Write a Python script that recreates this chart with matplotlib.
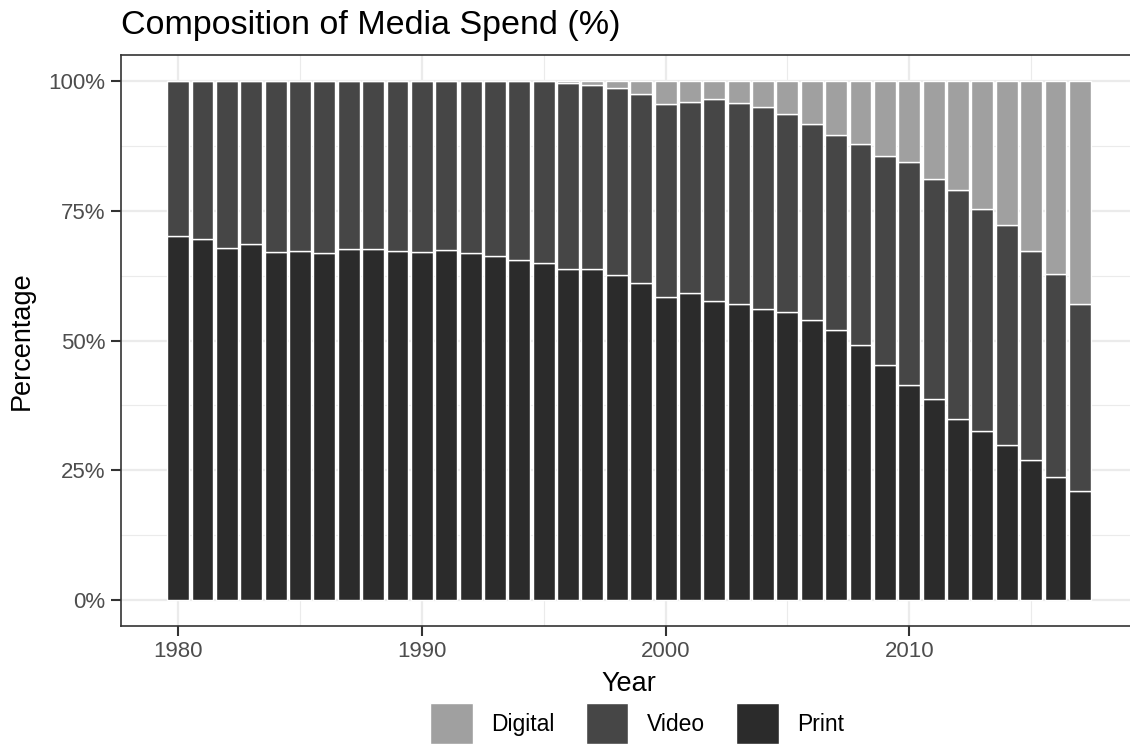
import numpy as np
import matplotlib.pyplot as plt
from matplotlib.ticker import FuncFormatter, MultipleLocator

plt.rcParams["font.family"] = ["Liberation Sans", "DejaVu Sans"]

years = list(range(1980, 2018))

print_pct = [70.1, 69.6, 67.9, 68.5, 67.0, 67.2, 66.9, 67.7, 67.6, 67.3,
             67.1, 67.4, 66.8, 66.3, 65.6, 65.0, 63.8, 63.8, 62.7, 61.0,
             58.4, 59.2, 57.7, 57.1, 56.1, 55.5, 54.0, 52.1, 49.1, 45.2,
             41.5, 38.8, 34.8, 32.6, 29.8, 27.0, 23.7, 21.1]

video_pct = [29.9, 30.4, 32.1, 31.5, 33.0, 32.8, 33.1, 32.3, 32.4, 32.7,
             32.9, 32.6, 33.2, 33.7, 34.4, 35.0, 35.8, 35.4, 36.0, 36.4,
             37.1, 36.8, 38.9, 38.7, 38.8, 38.1, 37.8, 37.5, 38.8, 40.4,
             42.8, 42.4, 44.1, 42.7, 42.4, 40.2, 39.2, 35.9]

digital_pct = [0.0, 0.0, 0.0, 0.0, 0.0, 0.0, 0.0, 0.0, 0.0, 0.0,
               0.0, 0.0, 0.0, 0.0, 0.0, 0.0, 0.4, 0.8, 1.3, 2.6,
               4.5, 4.0, 3.4, 4.2, 5.1, 6.4, 8.2, 10.4, 12.1, 14.4,
               15.7, 18.8, 21.1, 24.7, 27.8, 32.8, 37.1, 43.0]

colors = {"Print": "#2b2b2b", "Video": "#464646", "Digital": "#a0a0a0"}

W, H = 1130, 744
fig = plt.figure(figsize=(W / 100, H / 100), dpi=100)

# panel runs a little past the right edge, like the cropped original
left, right, top, bottom = 121, 1137, 55, 626
ax = fig.add_axes([left / W, 1 - bottom / H, (right - left) / W, (bottom - top) / H])

x = np.array(years)
p = np.array(print_pct)
v = np.array(video_pct)
d = np.array(digital_pct)

b_print = ax.bar(x, p, width=0.9, color=colors["Print"], edgecolor="white", linewidth=1, zorder=3)
b_video = ax.bar(x, v, bottom=p, width=0.9, color=colors["Video"], edgecolor="white", linewidth=1, zorder=3)
b_digital = ax.bar(x, d, bottom=p + v, width=0.9, color=colors["Digital"], edgecolor="white", linewidth=1, zorder=3)

ax.set_xlim(1977.655, 2019.345)
ax.set_ylim(-5, 105)

ax.set_xticks([1980, 1990, 2000, 2010])
ax.xaxis.set_minor_locator(MultipleLocator(5))
ax.set_yticks([0, 25, 50, 75, 100])
ax.yaxis.set_minor_locator(MultipleLocator(12.5))
ax.yaxis.set_major_formatter(FuncFormatter(lambda val, pos: f"{val:.0f}%"))

ax.grid(which="major", color="#ebebeb", linewidth=1.6, zorder=0)
ax.grid(which="minor", color="#ebebeb", linewidth=0.8, zorder=0)
ax.set_axisbelow(True)

for s in ax.spines.values():
    s.set_color("#333333")
    s.set_linewidth(1.2)

ax.tick_params(which="major", length=7, width=1.5, color="#333333",
               labelsize=16, labelcolor="#4d4d4d", pad=4)
ax.tick_params(which="minor", length=0)

ax.set_xlabel("Year", fontsize=19.5, labelpad=6)
ax.set_ylabel("Percentage", fontsize=19.5, labelpad=10)

fig.text(left / W, 1 - 34 / H, "Composition of Media Spend (%)", fontsize=24.5,
         ha="left", va="baseline")

fig.legend([b_digital, b_video, b_print], ["Digital", "Video", "Print"],
           loc="upper center", bbox_to_anchor=(637 / W, 1 - 703 / H),
           ncol=3, frameon=False, fontsize=16.5, handlelength=1.87,
           handleheight=2.4, handletextpad=0.8, columnspacing=1.35,
           borderpad=0, borderaxespad=0)

fig.savefig("out.png", dpi=100)
